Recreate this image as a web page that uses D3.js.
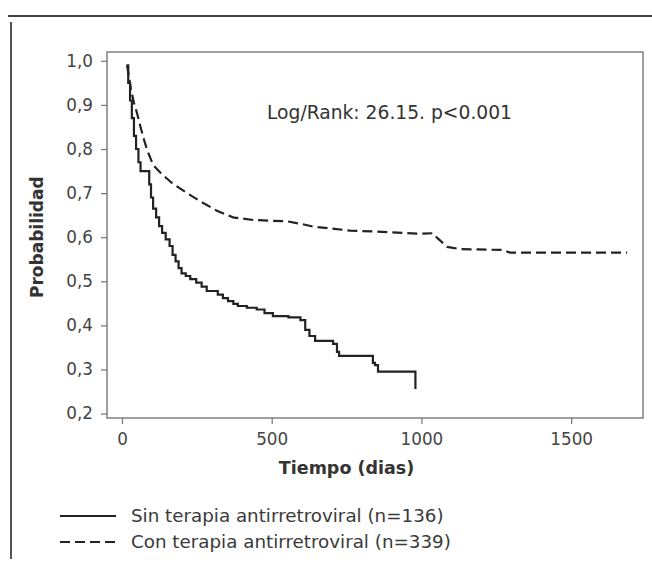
<!DOCTYPE html>
<html>
<head>
<meta charset="utf-8">
<script src="https://cdn.jsdelivr.net/npm/d3@7"></script>
<style>
  body { margin: 0; background: #fff; }
  svg { display: block; }
  text { font-family: "DejaVu Sans", sans-serif; fill: #3a3a3a; }
</style>
</head>
<body>
<div id="chart"></div>
<script>
// tick values
var xTicks = [0, 500, 1000, 1500];
var yTicks = [0.2, 0.3, 0.4, 0.5, 0.6, 0.7, 0.8, 0.9, 1.0];

// Kaplan-Meier steps (days, survival)
var sinDays = [15, 21, 27, 33, 40, 47, 55, 62, 91, 97, 104, 114, 124, 134, 146, 159, 169, 179, 189, 199,
               213, 228, 248, 266, 283, 320, 337, 354, 372, 387, 417, 450, 476, 504, 556, 596, 612, 626,
               645, 705, 718, 725, 838, 845, 855, 980];
var sinSurv = [0.99, 0.95, 0.91, 0.87, 0.83, 0.80, 0.77, 0.75, 0.72, 0.69, 0.665, 0.645, 0.625, 0.61, 0.595, 0.58, 0.56, 0.545, 0.53, 0.518,
               0.512, 0.505, 0.497, 0.488, 0.478, 0.47, 0.462, 0.455, 0.449, 0.444, 0.44, 0.436, 0.428, 0.421, 0.418, 0.412, 0.39, 0.376,
               0.365, 0.358, 0.34, 0.331, 0.315, 0.31, 0.295, 0.256];

// dense events: traced as a line through points
var conDays = [17, 30, 40, 50, 62, 75, 84, 104, 130, 167, 217, 265, 317, 371, 438, 551, 600, 638, 762, 839,
               986, 1039, 1052, 1086, 1129, 1273, 1296, 1687];
var conSurv = [0.99, 0.935, 0.905, 0.882, 0.85, 0.818, 0.798, 0.764, 0.745, 0.723, 0.70, 0.68, 0.66, 0.645, 0.639, 0.636, 0.63, 0.624, 0.615, 0.613,
               0.608, 0.609, 0.599, 0.578, 0.573, 0.571, 0.565, 0.565];

var seriesNames = ["Sin terapia antirretroviral (n=136)", "Con terapia antirretroviral (n=339)"];
var xTitle = "Tiempo (dias)";
var yTitle = "Probabilidad";
var statText = "Log/Rank: 26.15. p<0.001";

var width = 652, height = 563;
var plotLeft = 107, plotRight = 643, plotTop = 52, plotBottom = 418;

var svg = d3.select("#chart")
            .append("svg")
            .attr("width", width)
            .attr("height", height);

var x = d3.scaleLinear().domain([-50, 1740]).range([plotLeft, plotRight]);
var y = d3.scaleLinear().domain([0.19, 1.02]).range([plotBottom, plotTop]);

// outer page frame (scan border)
svg.append("line")
    .attr("x1", 8).attr("x2", width)
    .attr("y1", 16).attr("y2", 16)
    .style("stroke", "#444").style("stroke-width", 2);
svg.append("line")
    .attr("x1", 11).attr("x2", 11)
    .attr("y1", 22).attr("y2", 559)
    .style("stroke", "#555").style("stroke-width", 2);

// plot frame
svg.append("rect")
    .attr("x", plotLeft).attr("y", plotTop)
    .attr("width", plotRight - plotLeft).attr("height", plotBottom - plotTop)
    .style("fill", "none")
    .style("stroke", "#808080")
    .style("stroke-width", 1.5);

var yAxis = svg.append("g")
    .attr("transform", "translate(" + plotLeft + ",0)")
    .call(d3.axisLeft(y).tickValues(yTicks).tickSize(6).tickPadding(8)
        .tickFormat(function(d) { return d3.format(".1f")(d).replace(".", ","); }));

var xAxis = svg.append("g")
    .attr("transform", "translate(0," + plotBottom + ")")
    .call(d3.axisBottom(x).tickValues(xTicks).tickSize(6).tickPadding(9)
        .tickFormat(d3.format("d")));

[yAxis, xAxis].forEach(function(g) {
    g.select(".domain").remove();
    g.selectAll(".tick line").style("stroke", "#777").style("stroke-width", 1.2);
    g.selectAll(".tick text")
        .style("font-family", "DejaVu Sans, sans-serif")
        .style("font-size", "16.8px")
        .style("fill", "#444");
});

// curves
var stepLine = d3.line()
    .x(function(d) { return x(d[0]); })
    .y(function(d) { return y(d[1]); })
    .curve(d3.curveStepAfter);

var smoothLine = d3.line()
    .x(function(d) { return x(d[0]); })
    .y(function(d) { return y(d[1]); });

var sinData = sinDays.map(function(d, i) { return [d, sinSurv[i]]; });
var conData = conDays.map(function(d, i) { return [d, conSurv[i]]; });

svg.append("path")
    .attr("d", smoothLine(conData))
    .style("fill", "none")
    .style("stroke", "#222")
    .style("stroke-width", 2.2)
    .style("stroke-dasharray", "10,5");

svg.append("path")
    .attr("d", stepLine(sinData))
    .style("fill", "none")
    .style("stroke", "#222")
    .style("stroke-width", 2.2);

// titles
svg.append("text")
    .attr("x", x(750))
    .attr("y", 474)
    .attr("text-anchor", "middle")
    .style("font-size", "17.5px")
    .style("font-weight", "bold")
    .style("fill", "#333")
    .text(xTitle);

svg.append("text")
    .attr("transform", "translate(43," + y(0.6) + ") rotate(-90)")
    .attr("text-anchor", "middle")
    .style("font-size", "17px")
    .style("font-weight", "bold")
    .style("fill", "#333")
    .text(yTitle);

svg.append("text")
    .attr("x", 267)
    .attr("y", 119)
    .style("font-size", "18.7px")
    .style("fill", "#333")
    .text(statText);

// legend
var legendY = [516, 542];
seriesNames.forEach(function(name, i) {
    svg.append("line")
        .attr("x1", 60).attr("x2", 116)
        .attr("y1", legendY[i]).attr("y2", legendY[i])
        .style("stroke", "#222")
        .style("stroke-width", 2)
        .style("stroke-dasharray", i == 1 ? "10,5" : null);
    svg.append("text")
        .attr("x", 131)
        .attr("y", legendY[i])
        .attr("dy", "0.35em")
        .style("font-size", "18.3px")
        .style("fill", "#3a3a3a")
        .text(name);
});
</script>
</body>
</html>
